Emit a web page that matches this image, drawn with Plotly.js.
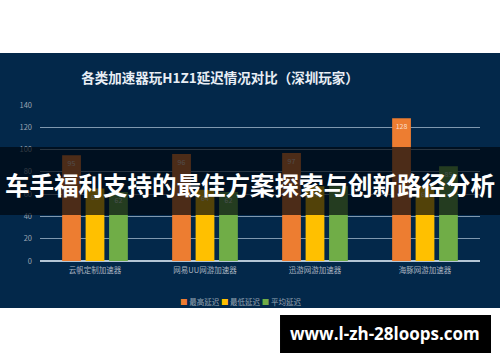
<!DOCTYPE html>
<html>
<head>
<meta charset="utf-8">
<script src="https://cdn.plot.ly/plotly-3.0.1.min.js"></script>
<style>
  html, body { margin: 0; padding: 0; background: #ffffff; }
  #chart { width: 500px; height: 362px; }
</style>
</head>
<body>
<div id="chart"></div>
<script>
// Accelerators compared
const categories = ['云帆定制加速器', '网易UU网游加速器', '迅游网游加速器', '海豚网游加速器'];
// Latency series (ms)
const maxLatency = [95, 96, 97, 128];
const minLatency = [65, 64, 67, 67];
const avgLatency = [62, 62, 67, 85];
const seriesNames = ['最高延迟', '最低延迟', '平均延迟'];
const seriesColors = ['#ed7d31', '#ffc000', '#70ad47'];
const yTicks = [0, 20, 40, 60, 80, 100, 120, 140];

const cjk = '"Noto Sans CJK SC", "Noto Sans", sans-serif';

function barTrace(values, i) {
  return {
    type: 'bar',
    name: seriesNames[i],
    x: categories,
    y: values,
    marker: { color: seriesColors[i] },
    text: values.map(String),
    textposition: 'inside',
    insidetextanchor: 'end',
    textangle: 0,
    textfont: { size: 7, color: 'rgba(255,255,255,0.75)', family: cjk },
    hoverinfo: 'skip'
  };
}

const data = [maxLatency, minLatency, avgLatency].map(barTrace);

// compact legend: small coloured squares followed by the series names
const legendText = seriesNames
  .map((n, i) => `<span style="color:${seriesColors[i]}">■</span> ${n}`)
  .join(' ');

const layout = {
  width: 500,
  height: 362,
  margin: { l: 40, r: 20, t: 105, b: 101 },
  paper_bgcolor: 'rgba(0,0,0,0)',
  plot_bgcolor: 'rgba(0,0,0,0)',
  barmode: 'group',
  bargap: 0.36,
  bargroupgap: 0.2,
  showlegend: false,
  title: {
    text: '<b>各类加速器玩H1Z1延迟情况对比（深圳玩家）</b>',
    font: { family: cjk, size: 13.5, color: '#e8eef5' },
    x: 0.44, xanchor: 'center',
    y: 1 - 78 / 362, yanchor: 'middle'
  },
  xaxis: {
    showgrid: false,
    showline: false,
    ticks: '',
    ticklabelstandoff: 3,
    tickfont: { family: cjk, size: 7.5, color: '#aab4c0' },
    fixedrange: true
  },
  yaxis: {
    range: [0, 140],
    tickvals: yTicks,
    showgrid: true,
    gridcolor: 'rgba(170,190,210,0.75)',
    gridwidth: 1.2,
    zeroline: true,
    zerolinecolor: 'rgba(200,215,230,0.9)',
    zerolinewidth: 1.2,
    ticks: '',
    ticklabelstandoff: 7,
    tickfont: { family: cjk, size: 7.5, color: '#9aa6b4' },
    fixedrange: true
  },
  shapes: [
    // navy panel behind the chart
    {
      type: 'rect', xref: 'paper', yref: 'paper', layer: 'below',
      x0: -0.1, x1: 1.06, y0: -0.3013, y1: 1.3333,
      fillcolor: '#03284a', line: { width: 0 }
    },
    // dark banner across the chart
    {
      type: 'rect', xref: 'paper', yref: 'paper', layer: 'above',
      x0: -0.1, x1: 1.06, y0: 0.295, y1: 0.731,
      fillcolor: 'rgba(0,6,14,0.68)', line: { width: 0 }
    },
    // black box for the site address
    {
      type: 'rect', xref: 'paper', yref: 'paper', layer: 'above',
      x0: 0.5455, x1: 1.025, y0: -0.590, y1: -0.346,
      fillcolor: '#000000', line: { width: 0 }
    }
  ],
  annotations: [
    {
      text: legendText,
      xref: 'paper', yref: 'paper',
      x: (240 - 40) / 440, y: (261 - 301) / 156,
      xanchor: 'center', yanchor: 'middle',
      showarrow: false,
      font: { family: cjk, size: 7.5, color: '#9aa6b4' }
    },
    {
      text: '<b>车手福利支持的最佳方案探索与创新路径分析</b>',
      xref: 'paper', yref: 'paper',
      x: (250 - 40) / 440, y: (261 - 184) / 156,
      xanchor: 'center', yanchor: 'middle',
      showarrow: false,
      font: { family: cjk, size: 24.5, color: '#ffffff' }
    },
    {
      text: '<b>www.l-zh-28loops.com</b>',
      xref: 'paper', yref: 'paper',
      x: (385 - 40) / 440, y: (261 - 333) / 156,
      xanchor: 'center', yanchor: 'middle',
      showarrow: false,
      font: { family: '"Open Sans", "DejaVu Sans", sans-serif', size: 17, color: '#ffffff' }
    }
  ]
};

Plotly.newPlot('chart', data, layout, { displayModeBar: false, staticPlot: true });
</script>
</body>
</html>
